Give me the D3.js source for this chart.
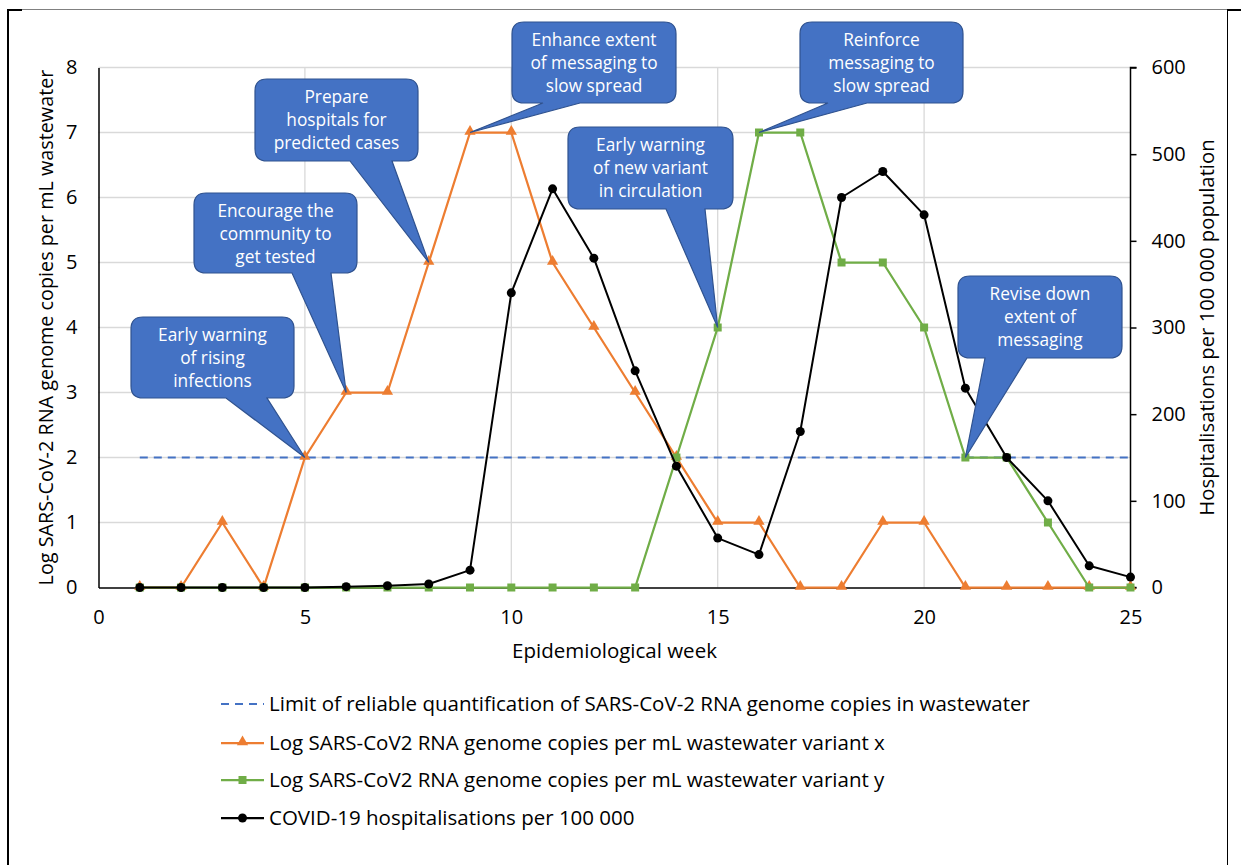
<!DOCTYPE html>
<html>
<head>
<meta charset="utf-8">
<script src="https://cdn.jsdelivr.net/npm/d3@7/dist/d3.min.js"></script>
<style>
  html, body { margin: 0; padding: 0; background: #fff; }
  svg { display: block; font-family: "Open Sans", "Lato", sans-serif; }
</style>
</head>
<body>
<svg id="chart" width="1241" height="865"></svg>
<script>
// Epidemiological weeks 1..25
const weeks = d3.range(1, 26);

// Log SARS-CoV2 RNA genome copies per mL wastewater, variant x
const variantX = [0, 0, 1, 0, 2, 3, 3, 5, 7, 7, 5, 4, 3, 2, 1, 1, 0, 0, 1, 1, 0, 0, 0, 0, 0];
// Log SARS-CoV2 RNA genome copies per mL wastewater, variant y
const variantY = [0, 0, 0, 0, 0, 0, 0, 0, 0, 0, 0, 0, 0, 2, 4, 7, 7, 5, 5, 4, 2, 2, 1, 0, 0];
// COVID-19 hospitalisations per 100 000
const hospitalisations = [0, 0, 0, 0, 0, 1, 2, 4, 20, 340, 460, 380, 250, 140, 57, 38, 180, 450, 480, 430, 230, 150, 100, 25, 12];
// Limit of reliable quantification (log copies per mL)
const quantLimit = 2;

const xTicks = [0, 5, 10, 15, 20, 25];
const yLeftTicks = [0, 1, 2, 3, 4, 5, 6, 7, 8];
const yRightTicks = [0, 100, 200, 300, 400, 500, 600];

const legendLabels = [
  "Limit of reliable quantification of SARS-CoV-2 RNA genome copies in wastewater",
  "Log SARS-CoV2 RNA genome copies per mL wastewater variant x",
  "Log SARS-CoV2 RNA genome copies per mL wastewater variant y",
  "COVID-19 hospitalisations per 100 000"
];

// Action callouts: text lines, the week and series they point at
const callouts = [
  { lines: ["Early warning", "of rising", "infections"], week: 5, series: "x" },
  { lines: ["Encourage the", "community to", "get tested"], week: 6, series: "x" },
  { lines: ["Prepare", "hospitals for", "predicted cases"], week: 8, series: "x" },
  { lines: ["Enhance extent", "of messaging to", "slow spread"], week: 9, series: "x" },
  { lines: ["Early warning", "of new variant", "in circulation"], week: 15, series: "y" },
  { lines: ["Reinforce", "messaging to", "slow spread"], week: 16, series: "y" },
  { lines: ["Revise down", "extent of", "messaging"], week: 21, series: "y" }
];
// Box geometry for each callout (left, top, width, height, wedge base start/end from left)
const calloutBoxes = [
  { x: 131, y: 317, w: 163, h: 81, b0: 95, b1: 136 },
  { x: 194, y: 193, w: 163, h: 80, b0: 98, b1: 137 },
  { x: 255, y: 79, w: 163, h: 82, b0: 95, b1: 137 },
  { x: 512, y: 22, w: 164, h: 81, b0: 31, b1: 68 },
  { x: 568, y: 127, w: 165, h: 82, b0: 98, b1: 137 },
  { x: 800, y: 22, w: 163, h: 81, b0: 28, b1: 67 },
  { x: 958, y: 276, w: 164, h: 82, b0: 27, b1: 69 }
];

const COLORS = {
  limit: "#4472C4",
  x: "#ED7D31",
  y: "#70AD47",
  hosp: "#000000",
  grid: "#D9D9D9",
  callout: "#4472C4",
  calloutEdge: "#2F528F"
};

const svg = d3.select("#chart");
svg.append("rect").attr("width", 1241).attr("height", 865).attr("fill", "#fff");

// frame
svg.append("line").attr("x1", 8).attr("x2", 1228).attr("y1", 9.5).attr("y2", 9.5)
  .attr("stroke", "#808080").attr("stroke-width", 1);
svg.append("line").attr("x1", 8).attr("x2", 8).attr("y1", 9).attr("y2", 865)
  .attr("stroke", "#000").attr("stroke-width", 2);
svg.append("line").attr("x1", 8).attr("x2", 22).attr("y1", 10).attr("y2", 10)
  .attr("stroke", "#000").attr("stroke-width", 2);
svg.append("line").attr("x1", 1227).attr("x2", 1241).attr("y1", 10).attr("y2", 10)
  .attr("stroke", "#000").attr("stroke-width", 2);
svg.append("line").attr("x1", 1227.5).attr("x2", 1227.5).attr("y1", 10).attr("y2", 865)
  .attr("stroke", "#000").attr("stroke-width", 1);

const plot = { left: 98.5, right: 1130.5, top: 67.5, bottom: 587.5 };
const x = d3.scaleLinear().domain([0, 25]).range([plot.left, plot.right]);
const yL = d3.scaleLinear().domain([0, 8]).range([plot.bottom, plot.top]);
const yR = d3.scaleLinear().domain([0, 600]).range([plot.bottom, plot.top]);

// gridlines
const grid = svg.append("g");
grid.selectAll("line.h").data(yLeftTicks.filter(d => d > 0)).join("line")
  .attr("x1", plot.left).attr("x2", plot.right)
  .attr("y1", d => yL(d)).attr("y2", d => yL(d))
  .attr("stroke", COLORS.grid).attr("stroke-width", 1.3);
grid.selectAll("line.v").data(xTicks.filter(d => d > 0 && d < 25)).join("line")
  .attr("x1", d => x(d)).attr("x2", d => x(d))
  .attr("y1", plot.top).attr("y2", plot.bottom)
  .attr("stroke", COLORS.grid).attr("stroke-width", 1.3);

// axes
const tickFont = 20;
const labelFont = 20.5;
const axL = svg.append("g").attr("transform", `translate(${plot.left},0)`)
  .call(d3.axisLeft(yL).tickValues(yLeftTicks).tickSize(0).tickPadding(21));
const axR = svg.append("g").attr("transform", `translate(${plot.right},0)`)
  .call(d3.axisRight(yR).tickValues(yRightTicks).tickSize(6).tickPadding(15));
const axB = svg.append("g").attr("transform", `translate(0,${plot.bottom})`)
  .call(d3.axisBottom(x).tickValues(xTicks).tickSize(0).tickPadding(22));
[axL, axR, axB].forEach(g => {
  g.selectAll("path.domain").attr("stroke", "#000").attr("stroke-width", 1.5);
  g.selectAll(".tick line").attr("stroke", "#000").attr("stroke-width", 1.5);
  g.selectAll("text").attr("font-size", tickFont).attr("fill", "#000")
    .attr("font-family", "'Open Sans', Lato, sans-serif");
});
axR.select("path.domain").attr("d", `M6,${plot.top}H0V${plot.bottom}H6`);

// axis titles
svg.append("text").attr("transform", `translate(53,${(plot.top + plot.bottom) / 2}) rotate(-90)`)
  .attr("text-anchor", "middle").attr("font-size", 19.8)
  .text("Log SARS-CoV-2 RNA genome copies per mL wastewater");
svg.append("text").attr("transform", `translate(1214,${(plot.top + plot.bottom) / 2}) rotate(-90)`)
  .attr("text-anchor", "middle").attr("font-size", 20.3)
  .text("Hospitalisations per 100 000 population");
svg.append("text").attr("x", (plot.left + plot.right) / 2).attr("y", 658)
  .attr("text-anchor", "middle").attr("font-size", labelFont)
  .text("Epidemiological week");

// quantification limit
svg.append("line")
  .attr("x1", x(weeks[0])).attr("x2", x(weeks[weeks.length - 1]))
  .attr("y1", yL(quantLimit)).attr("y2", yL(quantLimit))
  .attr("stroke", COLORS.limit).attr("stroke-width", 2).attr("stroke-dasharray", "8,6");

const seriesX = weeks.map((w, i) => ({ w, v: variantX[i] }));
const seriesY = weeks.map((w, i) => ({ w, v: variantY[i] }));
const seriesH = weeks.map((w, i) => ({ w, v: hospitalisations[i] }));

const lineL = d3.line().x(d => x(d.w)).y(d => yL(d.v));
const lineR = d3.line().x(d => x(d.w)).y(d => yR(d.v));

const triangle = d3.symbol().type(d3.symbolTriangle).size(55);
const square = d3.symbol().type(d3.symbolSquare).size(64);

// variant x
svg.append("path").attr("d", lineL(seriesX)).attr("fill", "none")
  .attr("stroke", COLORS.x).attr("stroke-width", 2.25).attr("stroke-linejoin", "round");
svg.append("g").selectAll("path").data(seriesX).join("path")
  .attr("d", triangle).attr("transform", d => `translate(${x(d.w)},${yL(d.v) - 1})`)
  .attr("fill", COLORS.x);

// variant y
svg.append("path").attr("d", lineL(seriesY)).attr("fill", "none")
  .attr("stroke", COLORS.y).attr("stroke-width", 2.25).attr("stroke-linejoin", "round");
svg.append("g").selectAll("path").data(seriesY).join("path")
  .attr("d", square).attr("transform", d => `translate(${x(d.w)},${yL(d.v)})`)
  .attr("fill", COLORS.y);

// hospitalisations
svg.append("path").attr("d", lineR(seriesH)).attr("fill", "none")
  .attr("stroke", COLORS.hosp).attr("stroke-width", 2).attr("stroke-linejoin", "round");
svg.append("g").selectAll("circle").data(seriesH).join("circle")
  .attr("cx", d => x(d.w)).attr("cy", d => yR(d.v)).attr("r", 4.5)
  .attr("fill", COLORS.hosp);

// callouts
function calloutPath(b, tx, ty) {
  const r = 12, x0 = b.x, y0 = b.y, x1 = b.x + b.w, y1 = b.y + b.h;
  return `M${x0 + r},${y0}H${x1 - r}Q${x1},${y0} ${x1},${y0 + r}V${y1 - r}Q${x1},${y1} ${x1 - r},${y1}` +
    `H${x0 + b.b1}L${tx},${ty}L${x0 + b.b0},${y1}` +
    `H${x0 + r}Q${x0},${y1} ${x0},${y1 - r}V${y0 + r}Q${x0},${y0} ${x0 + r},${y0}Z`;
}
const cg = svg.append("g");
callouts.forEach((c, i) => {
  const b = calloutBoxes[i];
  const vals = c.series === "x" ? variantX : variantY;
  const tx = x(c.week), ty = yL(vals[weeks.indexOf(c.week)]);
  cg.append("path").attr("d", calloutPath(b, tx, ty))
    .attr("fill", COLORS.callout).attr("stroke", COLORS.calloutEdge).attr("stroke-width", 1.2);
  const t = cg.append("text").attr("text-anchor", "middle").attr("fill", "#fff")
    .attr("font-size", 17.3);
  c.lines.forEach((ln, j) => {
    t.append("tspan").attr("x", b.x + b.w / 2).attr("y", b.y + 24 + j * 23).text(ln);
  });
});

// legend
const legend = svg.append("g");
const rowsY = [704, 743, 780, 818];
const keys = ["limit", "x", "y", "hosp"];
keys.forEach((k, i) => {
  const yy = rowsY[i];
  const g = legend.append("g");
  g.append("line").attr("x1", 221).attr("x2", 264).attr("y1", yy).attr("y2", yy)
    .attr("stroke", COLORS[k]).attr("stroke-width", k === "limit" ? 2 : 2.25)
    .attr("stroke-dasharray", k === "limit" ? "8,6" : null);
  if (k === "x") g.append("path").attr("d", triangle).attr("transform", `translate(242.5,${yy - 1})`).attr("fill", COLORS.x);
  if (k === "y") g.append("path").attr("d", square).attr("transform", `translate(242.5,${yy})`).attr("fill", COLORS.y);
  if (k === "hosp") g.append("circle").attr("cx", 242.5).attr("cy", yy).attr("r", 4.5).attr("fill", COLORS.hosp);
  g.append("text").attr("x", 269).attr("y", yy).attr("dy", "0.35em")
    .attr("font-size", labelFont).text(legendLabels[i]);
});
</script>
</body>
</html>
